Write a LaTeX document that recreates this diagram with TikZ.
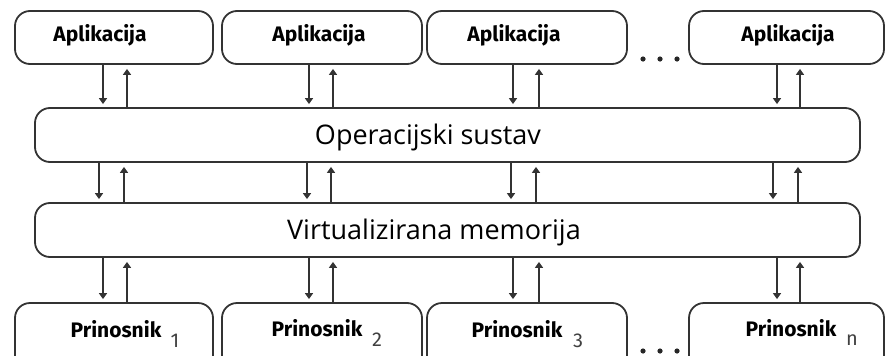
\documentclass[tikz,border=0pt]{standalone}
\usepackage{fontspec}
\setmainfont{Open Sans}
\newfontfamily\appfont{Fira Sans}
\usetikzlibrary{arrows.meta}
\definecolor{linec}{HTML}{333333}
\tikzset{
  box/.style={draw=linec, line width=1.8pt, rounded corners=15pt, fill=white, inner sep=0pt},
  smallbox/.style={box, minimum width=#1, minimum height=53pt},
  bigbox/.style={box, minimum width=825pt, minimum height=54pt},
  applabel/.style={font=\appfont\bfseries\fontsize{21}{24}\selectfont, inner sep=0pt},
  midlabel/.style={font=\fontsize{27}{31}\selectfont, inner sep=0pt},
  sublabel/.style={font=\appfont\fontsize{20}{22}\selectfont, inner sep=0pt, text=black!75},
  dn/.style={draw=linec, line width=1.5pt, -{Triangle[width=8pt,length=6pt]}, shorten >=3pt},
  up/.style={draw=linec, line width=1.5pt, -{Triangle[width=8pt,length=6pt]}, shorten >=4pt},
  dot/.style={fill=black!85}
}
\begin{document}
\begin{tikzpicture}[x=1pt,y=-1pt]
\useasboundingbox (0,0) rectangle (886,356);
\clip (0,0) rectangle (886,356);
% top application boxes
\node[smallbox=198pt] (a1) at (114,37.5) {};
\node[smallbox=200pt] (a2) at (322,37.5) {};
\node[smallbox=200pt] (a3) at (527,37.5) {};
\node[smallbox=195pt] (a4) at (786.5,37.5) {};
\node[applabel] (ta1) at (100,35) {Aplikacija};
\node[applabel] (ta2) at (319,35) {Aplikacija};
\node[applabel] (ta3) at (514,35) {Aplikacija};
\node[applabel] (ta4) at (788,35) {Aplikacija};
% layers
\node[bigbox] (os) at (447.5,135) {};
\node[midlabel] (tos) at (428,137) {Operacijski sustav};
\node[bigbox] (vm) at (447.5,230) {};
\node[midlabel] (tvm) at (434,232) {Virtualizirana memorija};
% bottom boxes
\node[smallbox=198pt, minimum height=72pt] (p1) at (114,339) {};
\node[smallbox=200pt, minimum height=72pt] (p2) at (322,339) {};
\node[smallbox=200pt, minimum height=72pt] (p3) at (527,339) {};
\node[smallbox=195pt, minimum height=72pt] (p4) at (786.5,339) {};
\node[applabel] (tp1) at (116,329) {Prinosnik};
\node[applabel] (tp2) at (317,328) {Prinosnik};
\node[applabel] (tp3) at (517,329) {Prinosnik};
\node[applabel] (tp4) at (791,328) {Prinosnik};
\node[sublabel] (s1) at (175,341) {1};
\node[sublabel] (s2) at (377,340) {2};
\node[sublabel] (s3) at (578,341) {3};
\node[sublabel] (s4) at (852,340) {n};
% ellipses
\foreach \x in {643,660,677}{
  \fill[dot] (\x,59) circle (2.6pt);
  \fill[dot] (\x,351) circle (2.6pt);
}
% arrow x positions
\foreach \d/\u [count=\i] in {103/127,309/333,513/539,777/800}{
  \coordinate (d\i) at (\d,0);
  \coordinate (u\i) at (\u,0);
}
\foreach \d/\u [count=\i] in {99/124,307/331,511/536,773/798}{
  \coordinate (md\i) at (\d,0);
  \coordinate (mu\i) at (\u,0);
}
\foreach \i in {1,2,3,4}{
  \draw[dn] (a\i.south -| d\i) -- (os.north -| d\i);
  \draw[up] (os.north -| u\i) -- (a\i.south -| u\i);
  \draw[dn] (os.south -| md\i) -- (vm.north -| md\i);
  \draw[up] (vm.north -| mu\i) -- (os.south -| mu\i);
  \draw[dn] (vm.south -| d\i) -- (p\i.north -| d\i);
  \draw[up] (p\i.north -| u\i) -- (vm.south -| u\i);
}
\end{tikzpicture}
\end{document}
